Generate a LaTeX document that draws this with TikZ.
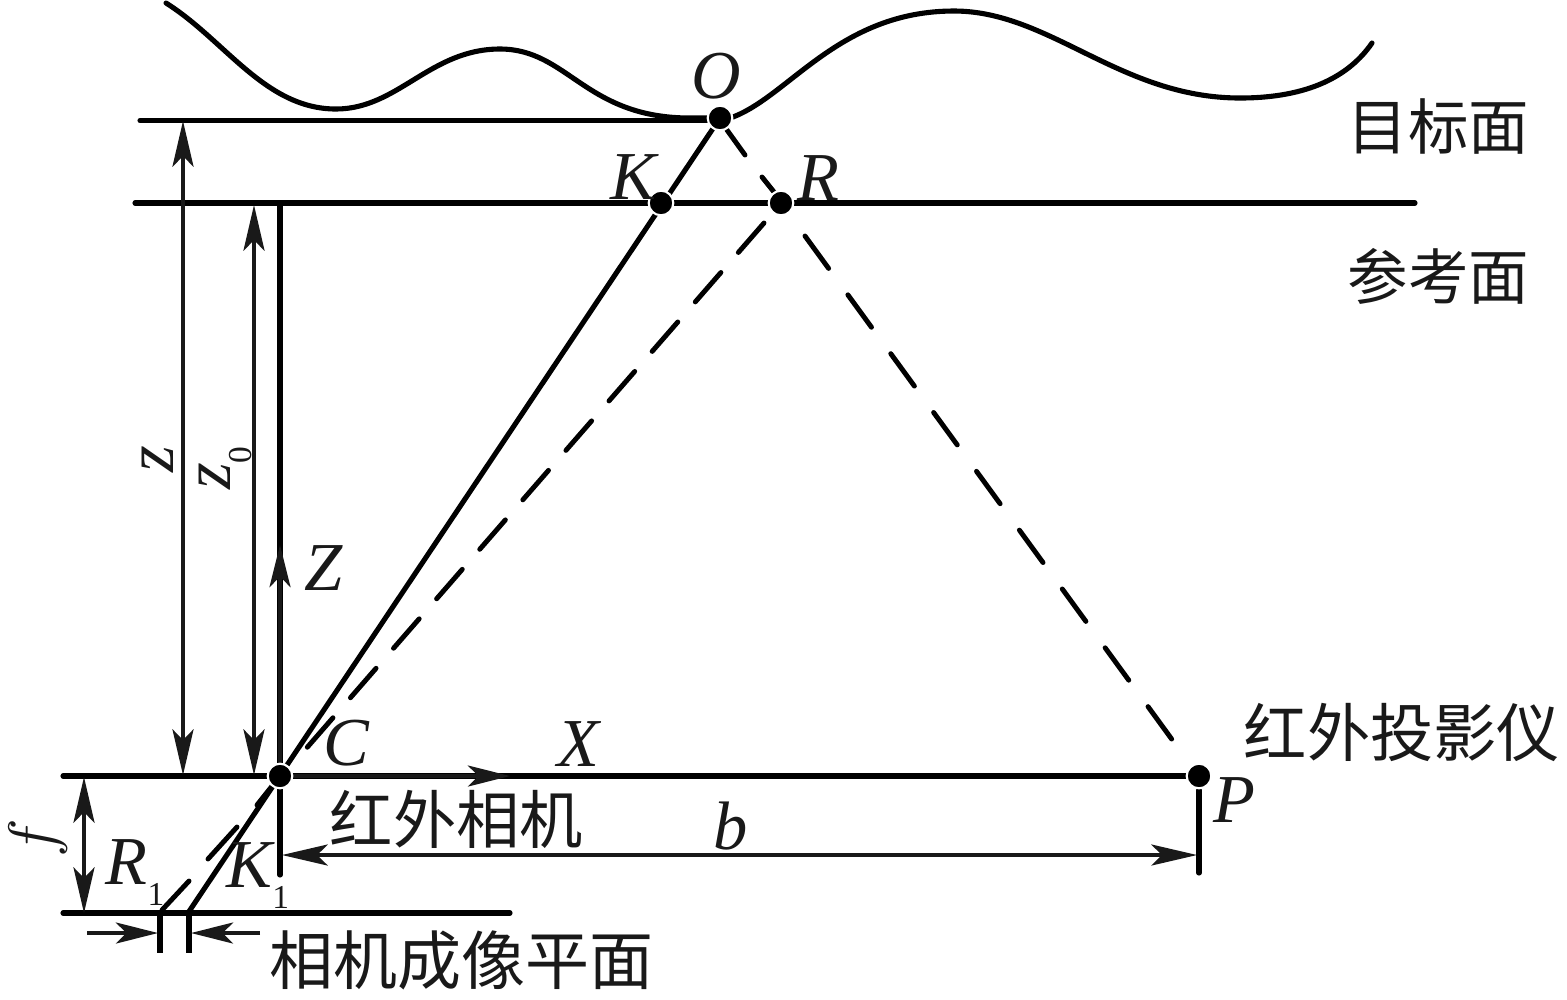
\documentclass[tikz,border=0pt]{standalone}
\usepackage{fontspec}
\setmainfont{Liberation Serif}
\newfontfamily\cjk{Noto Sans CJK SC}
\usetikzlibrary{arrows.meta}
\tikzset{
  thick line/.style={line width=1.45pt,line cap=round,black},
  thin dim/.style={line width=0.9pt,black!90,{Stealth[length=13pt,width=6pt,inset=3pt]}-{Stealth[length=13pt,width=6pt,inset=3pt]}},
  one dim/.style={line width=0.9pt,black!90,-{Stealth[length=12pt,width=6pt,inset=3pt]}},
  curve line/.style={line width=1.45pt,line cap=round,black},
  dash a/.style={line width=1.4pt,line cap=round,dash pattern=on 11.4pt off 9.3pt},
  dash b/.style={line width=1.4pt,line cap=round,dash pattern=on 11.1pt off 7.56pt},
  dash c/.style={line width=1.4pt,line cap=round},
  dot/.style={circle,fill=black,draw=white,line width=0.6pt,minimum size=7pt,inner sep=0pt},
  lab/.style={font=\fontsize{19.5}{22}\selectfont\itshape,text=black!90,inner sep=0pt},
  cn/.style={font=\cjk\fontsize{18}{20}\selectfont,text=black!90,inner sep=0pt},
  cnl/.style={font=\cjk\fontsize{18.2}{20}\selectfont,text=black!90,inner sep=0pt},
  cnb/.style={font=\cjk\fontsize{17.2}{20}\selectfont,text=black!90,inner sep=0pt},
}
\newcommand{\subone}[1]{\raisebox{-6pt}{\fontsize{9.5}{10}\selectfont\upshape #1}}
\begin{document}
\begin{tikzpicture}[x=0.01cm,y=-0.01cm]
\useasboundingbox (0,0) rectangle (1567,999);
% named points
\coordinate (O) at (720,118);
\coordinate (K) at (661,203);
\coordinate (R) at (781,203);
\coordinate (C) at (280,776);
\coordinate (P) at (1199,776);
\coordinate (K1) at (188,913);
\coordinate (Tl) at (140,120.6);
\coordinate (Tr) at (720,120.6);
\coordinate (Rl) at (135,203);
\coordinate (Rr) at (1415,203);
\coordinate (Bl) at (63,776);
\coordinate (Il) at (63,913);
\coordinate (Ir) at (510,913);
\coordinate (Top) at (280,203);
\coordinate (Cb) at (280,875);
\coordinate (Pt) at (1199,790);
\coordinate (Pb) at (1199,873);
\coordinate (Z) at (280,545);
\coordinate (Xa) at (510,776);
\coordinate (a1) at (805,236);
\coordinate (a2) at (1176,745);
\coordinate (b1) at (764,223);
\coordinate (b2) at (304,751);
\coordinate (c1) at (727,130);
\coordinate (c2) at (745,155);
\coordinate (c3) at (762,177);
\coordinate (c4) at (778,197);
\coordinate (e1) at (280,776);
\coordinate (e2) at (257,805);
\coordinate (e3) at (237,827);
\coordinate (e4) at (208,859);
\coordinate (e5) at (189,881);
\coordinate (e6) at (162,910);
% surface
\draw[curve line] (166,3) .. controls (225,40) and (265,109) .. (336,109)
  .. controls (398,109) and (430,49) .. (500,49)
  .. controls (568,49) and (585,118) .. (690,118) -- (715,118);
\draw[curve line] (733,117) .. controls (790,95) and (840,11) .. (954,11)
  .. controls (1050,11) and (1120,98) .. (1240,98)
  .. controls (1310,98) and (1350,75) .. (1372,43);
% horizontal lines
\draw[thick line] (Tl) -- (Tr);
\draw[thick line] (Rl) -- (Rr);
\draw[thick line] (Bl) -- (P);
\draw[thick line] (Il) -- (Ir);
% axes
\draw[thick line] (Top) -- (C);
\draw[thick line] (C) -- (Cb);
\draw[thick line] (Pt) -- (Pb);
\draw[one dim] (C) -- (Z);
\draw[one dim] (C) -- (Xa);
% rays
\draw[thick line] (O) -- (K1);
\draw[dash a] (a1) -- (a2);
\draw[dash b] (b1) -- (b2);
\draw[dash c] (c1) -- (c2);
\draw[dash c] (c3) -- (c4);
\draw[dash c] (e1) -- (e2);
\draw[dash c] (e3) -- (e4);
\draw[dash c] (e5) -- (e6);
% ticks
\draw[line width=1.45pt] (160,913) -- (160,953);
\draw[line width=1.45pt] (189,913) -- (189,953);
% dimensions
\draw[thin dim] (183,121) -- (183,775);
\draw[thin dim] (254,205) -- (254,775);
\draw[thin dim] (84,777) -- (84,913);
\draw[thin dim] (282,855) -- (1197,855);
\draw[one dim] (87,933) -- (158,933);
\draw[one dim] (260,933) -- (191,933);
% dots
\foreach \p in {O,K,R,C,P} \node[dot] (d\p) at (\p) {};
% labels
\node[lab] (lO) at (716,76) {O};
\node[lab] (lK) at (633,177) {K};
\node[lab] (lR) at (818,178) {R};
\node[lab] (lC) at (346,743) {C};
\node[lab] (lP) at (1234,800) {P};
\node[lab] (lX) at (578,744) {X};
\node[lab] (lZ) at (324,568) {Z};
\node[lab] (lb) at (731,826) {b};
\node[lab,rotate=90] (lz) at (158,459) {z};
\node[lab,rotate=90] (lz0) at (225,468) {z\subone{0}};
\node[lab,rotate=90,font=\fontsize{18}{20}\selectfont] (lf) at (38,838) {\scalebox{1.08}{$f$}};
\node[lab,anchor=base west] (lR1) at (105,884) {R\subone{1}};
\node[lab,anchor=base west] (lK1) at (226,887) {K\subone{1}};
\node[cnb,anchor=east] (t1) at (1530,127) {目标面};
\node[cnb,anchor=east] (t2) at (1530,276) {参考面};
\node[cn,anchor=west] (t3) at (1243,732) {红外投影仪};
\node[cn,anchor=west] (t4) at (329,819) {红外相机};
\node[cnl,anchor=west] (t5) at (269,960) {相机成像平面};
\end{tikzpicture}
\end{document}
